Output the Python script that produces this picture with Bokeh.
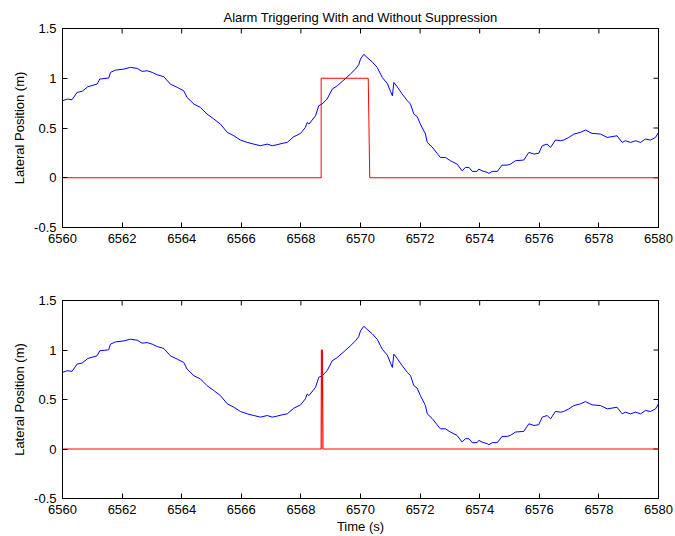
import math
from bokeh.plotting import figure
from bokeh.layouts import column
from bokeh.models import LinearAxis, FixedTicker, Range1d
from bokeh.embed import file_html
from bokeh.resources import INLINE

# ---- data ----
time_s = [6560.00, 6560.16, 6560.32, 6560.49, 6560.66, 6560.85, 6561.16, 6561.25, 6561.55, 6561.61,
          6561.78, 6562.06, 6562.28, 6562.51, 6562.67, 6562.84, 6563.01, 6563.18, 6563.40, 6563.62,
          6563.85, 6564.07, 6564.18, 6564.41, 6564.63, 6564.85, 6565.08, 6565.30, 6565.53, 6565.75,
          6565.97, 6566.20, 6566.42, 6566.64, 6566.87, 6567.04, 6567.20, 6567.37, 6567.54, 6567.76,
          6567.99, 6568.15, 6568.21, 6568.27, 6568.49, 6568.60, 6568.71, 6568.88, 6569.05, 6569.22,
          6569.44, 6569.66, 6569.83, 6569.94, 6570.00, 6570.11, 6570.22, 6570.39, 6570.56, 6570.73,
          6570.90, 6571.01, 6571.07, 6571.12, 6571.23, 6571.40, 6571.57, 6571.68, 6571.79, 6571.90,
          6572.01, 6572.18, 6572.24, 6572.40, 6572.57, 6572.68, 6572.85, 6573.02, 6573.24, 6573.41,
          6573.52, 6573.64, 6573.75, 6573.91, 6573.97, 6574.08, 6574.25, 6574.31, 6574.42, 6574.59,
          6574.75, 6574.92, 6575.03, 6575.20, 6575.48, 6575.65, 6575.82, 6575.98, 6576.10, 6576.26,
          6576.38, 6576.54, 6576.71, 6576.82, 6576.99, 6577.16, 6577.38, 6577.55, 6577.77, 6578.05,
          6578.17, 6578.28, 6578.61, 6578.78, 6578.89, 6579.06, 6579.23, 6579.40, 6579.56, 6579.73,
          6579.90, 6580.00]
lateral_pos = [0.774, 0.791, 0.784, 0.858, 0.868, 0.915, 0.941, 0.992, 1.002, 1.059,
               1.082, 1.092, 1.109, 1.099, 1.069, 1.075, 1.059, 1.035, 1.015, 0.941,
               0.908, 0.874, 0.807, 0.740, 0.707, 0.640, 0.590, 0.539, 0.456, 0.422,
               0.379, 0.355, 0.338, 0.322, 0.338, 0.322, 0.332, 0.345, 0.355, 0.412,
               0.446, 0.506, 0.556, 0.539, 0.623, 0.724, 0.740, 0.791, 0.891, 0.924,
               0.982, 1.042, 1.092, 1.135, 1.193, 1.240, 1.209, 1.165, 1.109, 1.008,
               0.948, 0.866, 0.824, 0.958, 0.915, 0.841, 0.774, 0.740, 0.640, 0.615,
               0.539, 0.439, 0.355, 0.310, 0.245, 0.204, 0.204, 0.171, 0.137, 0.070,
               0.104, 0.104, 0.064, 0.064, 0.087, 0.070, 0.054, 0.044, 0.064, 0.064,
               0.127, 0.127, 0.137, 0.171, 0.178, 0.255, 0.238, 0.245, 0.322, 0.338,
               0.305, 0.379, 0.372, 0.379, 0.405, 0.439, 0.456, 0.479, 0.446, 0.439,
               0.422, 0.405, 0.422, 0.355, 0.372, 0.355, 0.372, 0.355, 0.389, 0.379,
               0.405, 0.456]

# alarm without suppression
alarm_t = [6560.0, 6568.68, 6568.68, 6570.26, 6570.31, 6580.0]
alarm_v = [0, 0, 1, 1, 0, 0]
# alarm with suppression
alarm_sup_t = [6560.0, 6568.68, 6568.69, 6568.72, 6568.74, 6580.0]
alarm_sup_v = [0, 0, 1, 1, 0, 0]

x_ticks = [6560, 6562, 6564, 6566, 6568, 6570, 6572, 6574, 6576, 6578, 6580]
y_ticks = [-0.5, 0, 0.5, 1, 1.5]
y_tick_labels = {-0.5: "-0.5", 0: "0", 0.5: "0.5", 1: "1", 1.5: "1.5"}
x_min, x_max = 6560, 6580
y_min, y_max = -0.5, 1.5

FONT = "Liberation Sans"


def style_axis(ax, ticks, overrides=None):
    ax.ticker = FixedTicker(ticks=ticks)
    ax.major_tick_in = 5
    ax.major_tick_out = 0
    ax.minor_tick_line_color = None
    ax.axis_line_color = "black"
    ax.major_tick_line_color = "black"
    ax.major_label_text_font = FONT
    ax.major_label_text_font_size = "13px"
    ax.major_label_text_color = "black"
    ax.major_label_standoff = 6
    ax.axis_label_text_font = FONT
    ax.axis_label_text_font_size = "13px"
    ax.axis_label_text_font_style = "normal"
    ax.axis_label_text_color = "black"
    if overrides:
        ax.major_label_overrides = overrides


def make_fig(height, top, bottom, title=None, xlabel=None):
    p = figure(width=675, height=height, output_backend="svg", toolbar_location=None,
               x_range=Range1d(x_min, x_max), y_range=Range1d(y_min, y_max),
               min_border_left=62, min_border_right=17,
               min_border_top=top, min_border_bottom=bottom,
               title=title)
    p.xaxis.visible = False
    p.yaxis.visible = False
    p.grid.visible = False
    p.outline_line_color = "black"
    p.background_fill_color = "white"
    p.border_fill_color = "white"
    if title:
        p.title.text_font = FONT
        p.title.text_font_size = "13px"
        p.title.text_font_style = "normal"
        p.title.align = "center"
        p.title.vertical_align = "middle"
        p.title.text_color = "black"
        p.title.standoff = 6
    xb = LinearAxis(axis_label=xlabel)
    style_axis(xb, x_ticks)
    if xlabel:
        xb.axis_label_standoff = 2
    p.add_layout(xb, "below")
    yl = LinearAxis(axis_label="Lateral Position (m)")
    style_axis(yl, y_ticks, overrides=y_tick_labels)
    yl.axis_label_standoff = 4
    p.add_layout(yl, "left")
    # inward ticks on the top and right edges of the box (clipped to the frame)
    p.scatter(x_ticks, [y_max] * len(x_ticks), marker="dash", size=10, angle=math.pi / 2,
              line_color="black", line_width=1)
    p.scatter([x_max] * len(y_ticks), y_ticks, marker="dash", size=10, angle=0,
              line_color="black", line_width=1)
    return p


p1 = make_fig(268, 28, 41, title="Alarm Triggering With and Without Suppression")
p1.line(time_s, lateral_pos, line_color="#0000ff", line_width=1)
p1.line(alarm_t, alarm_v, line_color="#ff0000", line_width=1)

p2 = make_fig(268, 32, 37, xlabel="Time (s)")
p2.line(time_s, lateral_pos, line_color="#0000ff", line_width=1)
p2.line(alarm_sup_t, alarm_sup_v, line_color="#ff0000", line_width=1.2)

layout = column(p1, p2, spacing=0)

open("out.html", "w").write(file_html(layout, INLINE))
